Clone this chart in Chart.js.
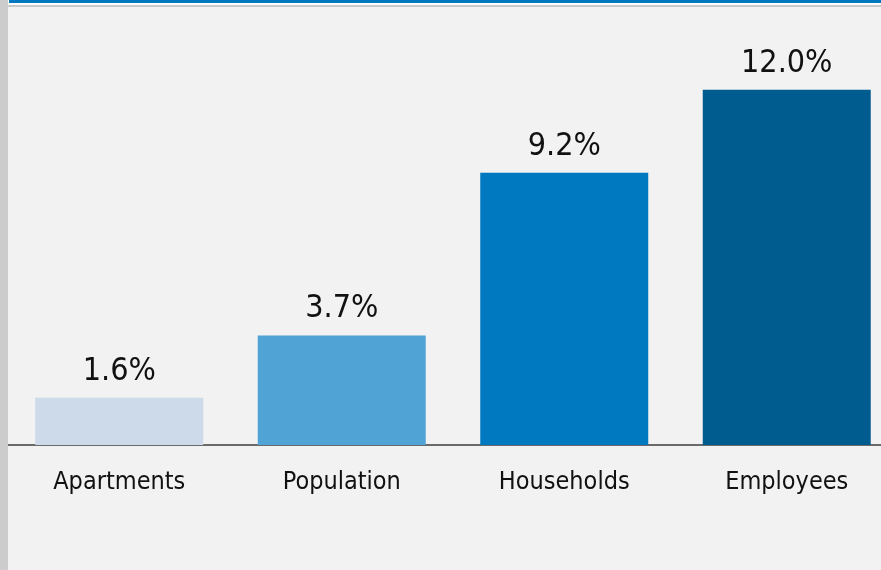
<!DOCTYPE html>
<html>
<head>
<meta charset="utf-8">
<script src="https://cdn.jsdelivr.net/npm/chart.js@4"></script>
<style>
  html, body { margin: 0; padding: 0; }
  body { width: 881px; height: 570px; overflow: hidden; position: relative; background: #f1f2f1; }
  #strip { position: absolute; left: 0; top: 0; width: 8px; height: 570px; background: #cccccc; }
  #head { position: absolute; left: 8px; top: 0; width: 873px; height: 7px; background: #ffffff; }
  #blue { position: absolute; left: 9px; top: 0; width: 872px; height: 3px; background: #0079c1; }
  #rule { position: absolute; left: 8px; top: 5px; width: 873px; height: 2px; background: #c9c9c9; }
  #wrap { position: absolute; left: 8px; top: 0; width: 890px; height: 570px; }
</style>
</head>
<body>
<div id="strip"></div>
<div id="head"></div>
<div id="blue"></div>
<div id="rule"></div>
<div id="wrap"><canvas id="chart"></canvas></div>
<script>
const categories = ["Apartments", "Population", "Households", "Employees"];
const growth = [1.6, 3.7, 9.2, 12.0];
const barColors = ["#cddaea", "#4fa3d5", "#0079c1", "#005b8f"];

const fontFamily = '"DejaVu Sans Condensed", "DejaVu Sans", sans-serif';

// percentage labels above each bar
const valueLabels = {
    id: "valueLabels",
    afterDatasetsDraw(chart) {
        const ctx = chart.ctx;
        const meta = chart.getDatasetMeta(0);
        ctx.save();
        ctx.font = "32px " + fontFamily;
        ctx.fillStyle = "#111111";
        ctx.textAlign = "center";
        ctx.textBaseline = "alphabetic";
        meta.data.forEach((bar, i) => {
            ctx.fillText(growth[i].toFixed(1) + "%", bar.x, bar.y - 18);
        });
        ctx.restore();
    }
};

new Chart(document.getElementById("chart"), {
    type: "bar",
    data: {
        labels: categories,
        datasets: [{
            data: growth,
            backgroundColor: barColors,
            borderWidth: 0,
            categoryPercentage: 1.0,
            barPercentage: 0.755
        }]
    },
    options: {
        responsive: true,
        maintainAspectRatio: false,
        animation: false,
        layout: {
            padding: { top: 1, bottom: 51, left: 0, right: 0 }
        },
        plugins: {
            legend: { display: false },
            tooltip: { enabled: false }
        },
        scales: {
            x: {
                grid: { display: false, drawTicks: false },
                border: { display: true, color: "#6a6a6a", width: 2 },
                ticks: {
                    color: "#111111",
                    padding: 22,
                    font: { size: 25, family: fontFamily }
                }
            },
            y: {
                display: false,
                min: 0,
                max: 15
            }
        }
    },
    plugins: [valueLabels]
});
</script>
</body>
</html>
